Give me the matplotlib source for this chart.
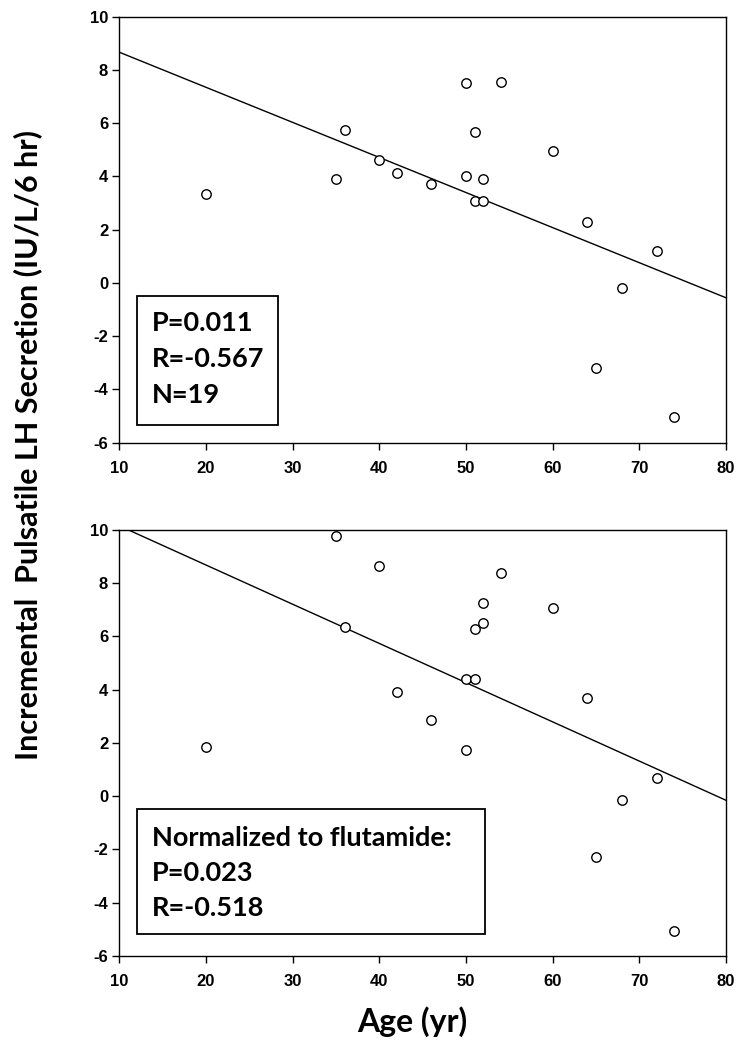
import numpy as np
import matplotlib.pyplot as plt
from matplotlib.patches import Rectangle

plt.rcParams["axes.unicode_minus"] = False

# age (yr) of each subject
age = [20, 35, 36, 40, 42, 46, 50, 50, 51, 51, 52, 52, 54, 60, 64, 65, 68, 72, 74]

# incremental pulsatile LH secretion (IU/L/6 hr)
lh_raw = [3.33, 3.90, 5.73, 4.61, 4.12, 3.72, 7.51, 4.03, 5.67, 3.09,
          3.89, 3.09, 7.56, 4.96, 2.29, -3.19, -0.18, 1.19, -5.03]
lh_norm = [1.85, 9.76, 6.36, 8.65, 3.92, 2.85, 4.40, 1.75, 4.40, 6.28,
           7.25, 6.52, 8.38, 7.07, 3.70, -2.29, -0.16, 0.70, -5.05]

stats_top = ["P=0.011", "R=-0.567", "N=19"]
stats_bottom = ["Normalized to flutamide:", "P=0.023", "R=-0.518"]

xticks = [10, 20, 30, 40, 50, 60, 70, 80]
yticks = [-6, -4, -2, 0, 2, 4, 6, 8, 10]

label_font = "Lato"
tick_font = "Liberation Sans"

fig = plt.figure(figsize=(7.5, 10.48), dpi=100)
ax1 = fig.add_axes([0.159, 0.5776, 0.809, 0.4065])
ax2 = fig.add_axes([0.159, 0.0878, 0.809, 0.4065])


def draw_panel(ax, x, y, lines, box, text_y):
    x = np.array(x)
    y = np.array(y)
    slope, icpt = np.polyfit(x, y, 1)
    xx = np.array([10, 80])
    ax.plot(xx, slope * xx + icpt, color="black", lw=1.0, clip_on=True)
    ax.plot(x, y, "o", ms=6.8, mfc="white", mec="black", mew=1.0, zorder=3)
    ax.set_xlim(10, 80)
    ax.set_ylim(-6, 10)
    ax.set_xticks(xticks)
    ax.set_yticks(yticks)
    ax.tick_params(direction="out", length=5, width=1, top=False, right=False)
    ax.tick_params(axis="x", pad=8)
    ax.tick_params(axis="y", pad=3)
    for lab in ax.get_xticklabels() + ax.get_yticklabels():
        lab.set_fontfamily(tick_font)
        lab.set_fontweight("bold")
        lab.set_fontsize(12)
    for sp in ax.spines.values():
        sp.set_linewidth(1.0)
    x0, y0, x1, y1 = box
    ax.add_patch(Rectangle((x0, y0), x1 - x0, y1 - y0, transform=ax.transAxes,
                           fill=False, edgecolor="black", lw=1.3, zorder=4))
    for s, ty in zip(lines, text_y):
        ax.text(0.054, ty, s, transform=ax.transAxes, va="center", ha="left",
                fontsize=19.5, fontweight="bold", family=label_font, zorder=5)


draw_panel(ax1, age, lh_raw, stats_top, (0.03, 0.042, 0.262, 0.344),
           [0.282, 0.196, 0.111])
draw_panel(ax2, age, lh_norm, stats_bottom, (0.03, 0.052, 0.603, 0.345),
           [0.277, 0.195, 0.113])

fig.text(0.037, 1 - 445 / 1048, "Incremental  Pulsatile LH Secretion (IU/L/6 hr)",
         rotation=90, ha="center", va="center", fontsize=22,
         fontweight="bold", family=label_font)
fig.text(412 / 750, 1 - 1022 / 1048, "Age (yr)", ha="center", va="center",
         fontsize=23, fontweight="bold", family=label_font)

fig.savefig("out.png", dpi=100)
